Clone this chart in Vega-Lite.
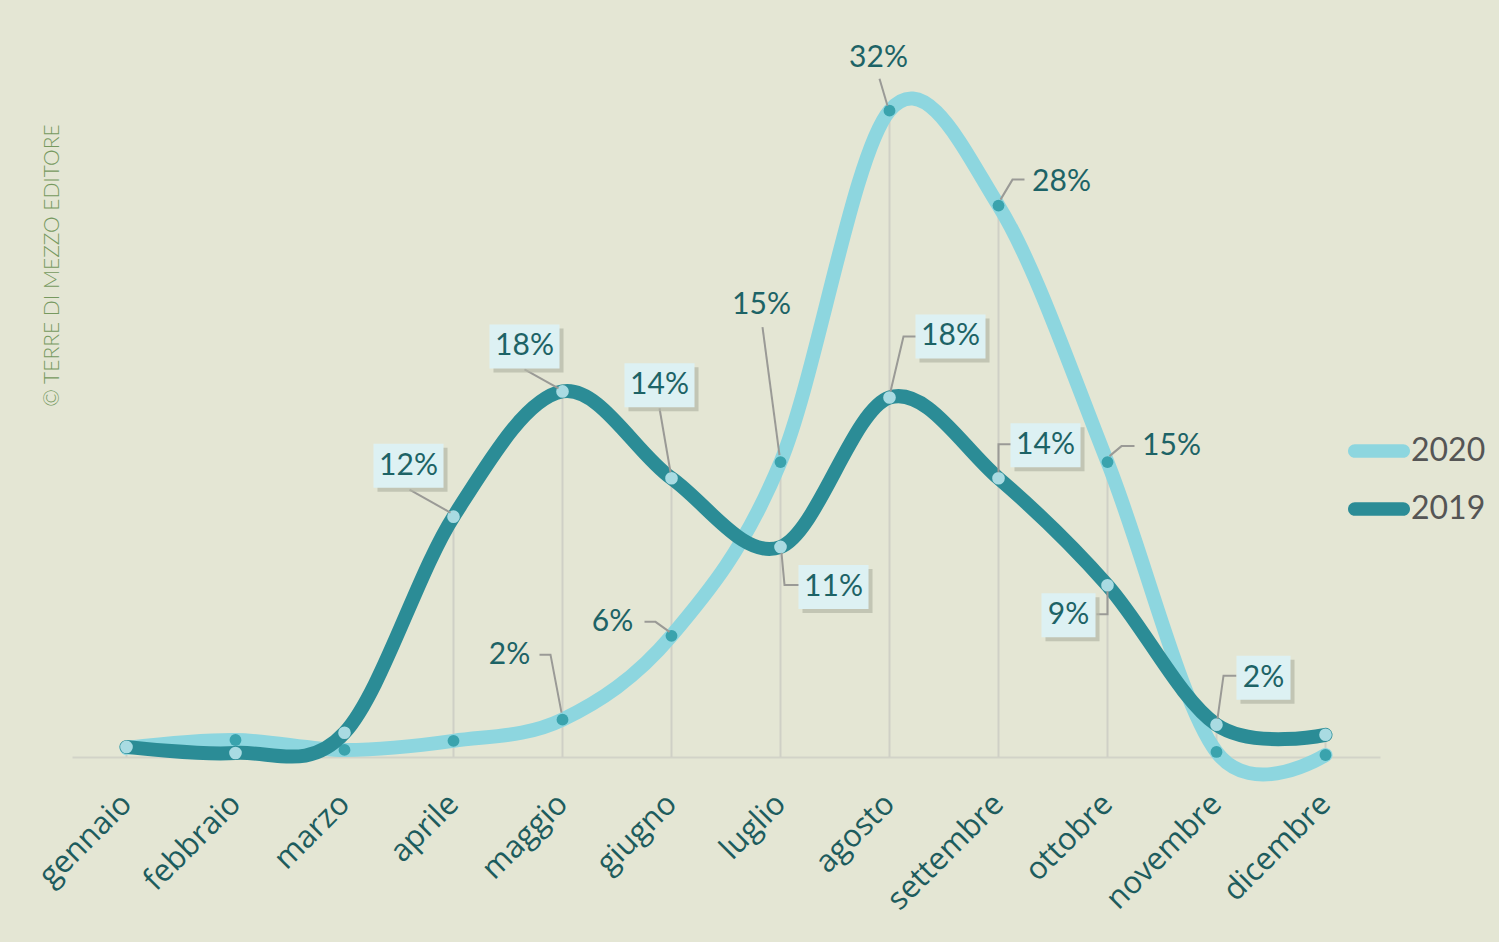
{
  "$schema": "https://vega.github.io/schema/vega-lite/v6.json",
  "width": 1308,
  "height": 717,
  "autosize": {"type": "none"},
  "padding": {"left": 72, "top": 40, "right": 119, "bottom": 185},
  "background": "#e4e6d4",
  "config": {"view": {"stroke": null}, "font": "Lato"},
  "data": {"values": [
    {"month": "gennaio", "year": "2020", "value": 0.45, "label": ""},
    {"month": "febbraio", "year": "2020", "value": 0.84, "label": ""},
    {"month": "marzo", "year": "2020", "value": 0.35, "label": ""},
    {"month": "aprile", "year": "2020", "value": 0.8, "label": ""},
    {"month": "maggio", "year": "2020", "value": 1.85, "label": "2%"},
    {"month": "giugno", "year": "2020", "value": 6.0, "label": "6%"},
    {"month": "luglio", "year": "2020", "value": 14.6, "label": "15%"},
    {"month": "agosto", "year": "2020", "value": 32.0, "label": "32%"},
    {"month": "settembre", "year": "2020", "value": 27.3, "label": "28%"},
    {"month": "ottobre", "year": "2020", "value": 14.6, "label": "15%"},
    {"month": "novembre", "year": "2020", "value": 0.25, "label": ""},
    {"month": "dicembre", "year": "2020", "value": 0.1, "label": ""},
    {"month": "gennaio", "year": "2019", "value": 0.5, "label": ""},
    {"month": "febbraio", "year": "2019", "value": 0.2, "label": ""},
    {"month": "marzo", "year": "2019", "value": 1.2, "label": ""},
    {"month": "aprile", "year": "2019", "value": 11.9, "label": "12%"},
    {"month": "maggio", "year": "2019", "value": 18.1, "label": "18%"},
    {"month": "giugno", "year": "2019", "value": 13.8, "label": "14%"},
    {"month": "luglio", "year": "2019", "value": 10.4, "label": "11%"},
    {"month": "agosto", "year": "2019", "value": 17.8, "label": "18%"},
    {"month": "settembre", "year": "2019", "value": 13.8, "label": "14%"},
    {"month": "ottobre", "year": "2019", "value": 8.5, "label": "9%"},
    {"month": "novembre", "year": "2019", "value": 1.6, "label": "2%"},
    {"month": "dicembre", "year": "2019", "value": 1.1, "label": ""}
  ]},
  "encoding": {
    "x": {
      "field": "month", "type": "ordinal",
      "sort": ["gennaio","febbraio","marzo","aprile","maggio","giugno","luglio","agosto","settembre","ottobre","novembre","dicembre"],
      "scale": {"type": "point", "padding": 0.5},
      "axis": {
        "title": null, "ticks": false, "domainColor": "#d2d3c8", "domainWidth": 2,
        "labelAngle": -45, "labelAlign": "right", "labelBaseline": "middle",
        "labelPadding": 42, "labelFontSize": 31, "labelColor": "#1d5c5d", "labelFont": "Open Sans", "grid": false
      }
    },
    "y": {
      "field": "value", "type": "quantitative",
      "scale": {"domain": [0, 35.5], "nice": false, "zero": false},
      "axis": {
        "title": "© TERRE DI MEZZO EDITORE", "labels": false, "ticks": false, "domain": false, "grid": false,
        "titleX": -20, "titleY": 225, "titleAngle": -90, "titleAlign": "center", "titleBaseline": "middle",
        "titleFontSize": 21, "titleFontWeight": 300, "titleColor": "#76995f", "titleFont": "Lato"
      }
    }
  },
  "resolve": {"scale": {"shape": "independent"}},
  "layer": [
    {
      "transform": [{"aggregate": [{"op": "max", "field": "value", "as": "top"}], "groupby": ["month"]}],
      "mark": {"type": "rule", "color": "#cfd0c6", "strokeWidth": 2},
      "encoding": {"y": {"field": "top", "type": "quantitative"}, "y2": {"datum": 0}}
    },
    {
      "transform": [{"filter": "datum.year == '2020'"}],
      "mark": {"type": "line", "interpolate": "cardinal", "strokeWidth": 14, "strokeCap": "round"},
      "encoding": {
        "color": {
          "field": "year", "type": "nominal",
          "scale": {"domain": ["2020", "2019"], "range": ["#8dd6df", "#2b8c96"]},
          "legend": {
            "title": null, "orient": "none", "legendX": 1276, "legendY": 380, "direction": "vertical",
            "symbolType": "M-0.78,-0.22H0.78A0.22,0.22 0 0 1 0.78,0.22H-0.78A0.22,0.22 0 0 1 -0.78,-0.22Z",
            "symbolSize": 3844, "symbolStrokeWidth": 0, "rowPadding": 11, "labelOffset": 1,
            "labelFontSize": 32, "labelColor": "#555555", "labelFont": "Lato",
            "encode": {"symbols": {"update": {"fill": {"scale": "color", "field": "value"}, "stroke": {"value": "transparent"}, "opacity": {"value": 1}}}}
          }
        }
      }
    },
    {
      "transform": [{"filter": "datum.year == '2020'"}],
      "mark": {"type": "point", "filled": true, "color": "#3aa3ad", "size": 140, "opacity": 1}
    },
    {
      "transform": [{"filter": "datum.year == '2019'"}],
      "mark": {"type": "line", "interpolate": "cardinal", "strokeWidth": 14, "strokeCap": "round"},
      "encoding": {"color": {"field": "year", "type": "nominal"}}
    },
    {
      "transform": [{"filter": "datum.year == '2019'"}],
      "mark": {"type": "point", "filled": true, "color": "#a9dbe2", "size": 160, "opacity": 1}
    },
    {
      "transform": [{"filter": "datum.year == '2020' && datum.label != ''"}],
      "mark": {"type": "point", "filled": false, "color": "#9a9a96", "strokeWidth": 2, "size": 4, "opacity": 1},
      "encoding": {"shape": {"field": "month", "type": "nominal", "legend": null,
        "scale": {"domain": ["maggio","giugno","luglio","agosto","settembre","ottobre"],
          "range": ["M-23,-65H-12L-1,-7", "M-27,-14H-16L-2,-4", "M-18,-135L-1,-7", "M-10,-32L-2,-5", "M26,-26H14L2,-6", "M27,-16H14L2,-6"]}}}
    },
    {
      "transform": [{"filter": "datum.year == '2019' && datum.label != ''"}],
      "mark": {"type": "point", "filled": false, "color": "#9a9a96", "strokeWidth": 2, "size": 4, "opacity": 1},
      "encoding": {"shape": {"field": "month", "type": "nominal", "legend": null,
        "scale": {"domain": ["aprile","maggio","giugno","luglio","agosto","settembre","ottobre","novembre"],
          "range": ["M-44,-27L-3,-4", "M-38,-22L-4,-3", "M-12,-70L-1,-6", "M1,6L4,38H19", "M1,-6L14,-61H27", "M0,-6V-34H13", "M0,6V29H-11", "M1,-6L7,-49H20"]}}}
    },
    {
      "transform": [{"filter": "datum.year == '2019' && datum.label != ''"}],
      "mark": {"type": "point", "filled": true, "color": "#b3b6a6", "size": 4, "opacity": 0.7, "strokeWidth": 0},
      "encoding": {"shape": {"field": "month", "type": "nominal", "legend": null,
        "scale": {"domain": ["aprile","maggio","giugno","luglio","agosto","settembre","ottobre","novembre"],
          "range": ["M-76,-69H-6V-25H-76Z", "M-69,-63H1V-19H-69Z", "M-43,-111H27V-67H-43Z", "M22,22H92V66H22Z", "M30,-79H100V-35H30Z", "M16,-51H86V-7H16Z", "M-62,12H-8V56H-62Z", "M24,-65H78V-21H24Z"]}}}
    },
    {
      "transform": [{"filter": "datum.year == '2019' && datum.label != ''"}],
      "mark": {"type": "point", "filled": true, "color": "#ddf1f3", "size": 4, "opacity": 1, "strokeWidth": 0},
      "encoding": {"shape": {"field": "month", "type": "nominal", "legend": null,
        "scale": {"domain": ["aprile","maggio","giugno","luglio","agosto","settembre","ottobre","novembre"],
          "range": ["M-80,-73H-10V-29H-80Z", "M-73,-67H-3V-23H-73Z", "M-47,-115H23V-71H-47Z", "M18,18H88V62H18Z", "M26,-83H96V-39H26Z", "M12,-55H82V-11H12Z", "M-66,8H-12V52H-66Z", "M20,-69H74V-25H20Z"]}}}
    },
    {"transform": [{"filter": "datum.year == '2020' && datum.month == 'maggio'"}], "mark": {"type": "text", "dx": -53, "dy": -65, "fontSize": 30, "color": "#1d6366", "font": "Lato"}, "encoding": {"text": {"field": "label"}}},
    {"transform": [{"filter": "datum.year == '2020' && datum.month == 'giugno'"}], "mark": {"type": "text", "dx": -59, "dy": -14, "fontSize": 30, "color": "#1d6366", "font": "Lato"}, "encoding": {"text": {"field": "label"}}},
    {"transform": [{"filter": "datum.year == '2020' && datum.month == 'luglio'"}], "mark": {"type": "text", "dx": -19, "dy": -157, "fontSize": 30, "color": "#1d6366", "font": "Lato"}, "encoding": {"text": {"field": "label"}}},
    {"transform": [{"filter": "datum.year == '2020' && datum.month == 'agosto'"}], "mark": {"type": "text", "dx": -11, "dy": -53, "fontSize": 30, "color": "#1d6366", "font": "Lato"}, "encoding": {"text": {"field": "label"}}},
    {"transform": [{"filter": "datum.year == '2020' && datum.month == 'settembre'"}], "mark": {"type": "text", "dx": 63, "dy": -24, "fontSize": 30, "color": "#1d6366", "font": "Lato"}, "encoding": {"text": {"field": "label"}}},
    {"transform": [{"filter": "datum.year == '2020' && datum.month == 'ottobre'"}], "mark": {"type": "text", "dx": 64, "dy": -16, "fontSize": 30, "color": "#1d6366", "font": "Lato"}, "encoding": {"text": {"field": "label"}}},
    {"transform": [{"filter": "datum.year == '2019' && datum.month == 'aprile'"}], "mark": {"type": "text", "dx": -45, "dy": -51, "fontSize": 30, "color": "#1d6366", "font": "Lato"}, "encoding": {"text": {"field": "label"}}},
    {"transform": [{"filter": "datum.year == '2019' && datum.month == 'maggio'"}], "mark": {"type": "text", "dx": -38, "dy": -45, "fontSize": 30, "color": "#1d6366", "font": "Lato"}, "encoding": {"text": {"field": "label"}}},
    {"transform": [{"filter": "datum.year == '2019' && datum.month == 'giugno'"}], "mark": {"type": "text", "dx": -12, "dy": -93, "fontSize": 30, "color": "#1d6366", "font": "Lato"}, "encoding": {"text": {"field": "label"}}},
    {"transform": [{"filter": "datum.year == '2019' && datum.month == 'luglio'"}], "mark": {"type": "text", "dx": 53, "dy": 40, "fontSize": 30, "color": "#1d6366", "font": "Lato"}, "encoding": {"text": {"field": "label"}}},
    {"transform": [{"filter": "datum.year == '2019' && datum.month == 'agosto'"}], "mark": {"type": "text", "dx": 61, "dy": -61, "fontSize": 30, "color": "#1d6366", "font": "Lato"}, "encoding": {"text": {"field": "label"}}},
    {"transform": [{"filter": "datum.year == '2019' && datum.month == 'settembre'"}], "mark": {"type": "text", "dx": 47, "dy": -33, "fontSize": 30, "color": "#1d6366", "font": "Lato"}, "encoding": {"text": {"field": "label"}}},
    {"transform": [{"filter": "datum.year == '2019' && datum.month == 'ottobre'"}], "mark": {"type": "text", "dx": -39, "dy": 30, "fontSize": 30, "color": "#1d6366", "font": "Lato"}, "encoding": {"text": {"field": "label"}}},
    {"transform": [{"filter": "datum.year == '2019' && datum.month == 'novembre'"}], "mark": {"type": "text", "dx": 47, "dy": -47, "fontSize": 30, "color": "#1d6366", "font": "Lato"}, "encoding": {"text": {"field": "label"}}}
  ]
}
